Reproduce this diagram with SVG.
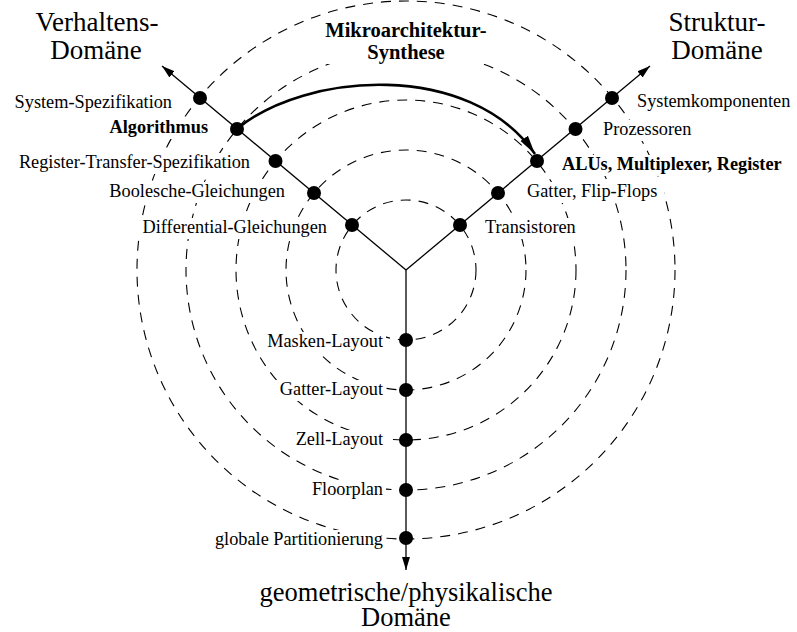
<svg xmlns="http://www.w3.org/2000/svg" width="797" height="632" viewBox="0 0 797 632">
  <style>
    .ring { fill: none; stroke: #000; stroke-width: 1.1; stroke-dasharray: 10 8; }
    .axis { fill: none; stroke: #000; stroke-width: 1.3; }
    .synth { fill: none; stroke: #000; stroke-width: 2.6; }
    .dot { fill: #000; }
    .bg { fill: #fff; }
    .lbl { font-family: "Liberation Serif", "Times New Roman", serif; font-size: 18.3px; fill: #000; }
    .bold { font-weight: bold; }
    .dom { font-family: "Liberation Serif", "Times New Roman", serif; font-size: 27px; fill: #000; }
    .end { text-anchor: end; }
    .mid { text-anchor: middle; }
  </style>
  <defs>
    <marker id="axisHead" markerUnits="userSpaceOnUse" markerWidth="14" markerHeight="10" refX="13" refY="5" orient="auto">
      <path d="M0,1 L13,5 L0,9 Z" fill="#000"/>
    </marker>
    <marker id="synthHead" markerUnits="userSpaceOnUse" markerWidth="20" markerHeight="12" refX="19" refY="6" orient="auto">
      <path d="M0,1.5 L19,6 L0,10.5 Z" fill="#000"/>
    </marker>
  </defs>

  <rect width="797" height="632" fill="#fff"/>

  <!-- abstraction levels: concentric dashed rings around the centre (406,270) -->
  <g id="rings">
    <circle class="ring" cx="406" cy="270" r="70"/>
    <circle class="ring" cx="406" cy="270" r="120"/>
    <circle class="ring" cx="406" cy="270" r="170"/>
    <circle class="ring" cx="406" cy="270" r="220"/>
    <circle class="ring" cx="406" cy="270" r="269"/>
  </g>

  <!-- domain titles -->
  <g id="domain-behaviour">
    <text class="dom mid" x="97" y="31">Verhaltens-</text>
    <text class="dom mid" x="96" y="59">Domäne</text>
  </g>
  <g id="domain-structure">
    <text class="dom mid" x="717" y="31">Struktur-</text>
    <text class="dom mid" x="717" y="59">Domäne</text>
  </g>
  <g id="domain-geometry">
    <text class="dom mid" style="font-size:26.5px"><tspan x="406" y="601">geometrische/physikalische</tspan><tspan x="406" y="626">Domäne</tspan></text>
  </g>

  <g id="synthesis-label">
    <rect class="bg" x="318" y="18" width="176" height="46"/>
    <text class="lbl bold mid" x="406" y="37" style="font-size:20.5px">Mikroarchitektur-</text>
    <text class="lbl bold mid" x="406" y="59" style="font-size:20.5px">Synthese</text>
  </g>

  <!-- connectors: the three domain axes and the synthesis step -->
  <g id="connectors">
    <line class="axis" x1="406" y1="270" x2="162" y2="66" marker-end="url(#axisHead)"/>
    <line class="axis" x1="406" y1="270" x2="650" y2="66" marker-end="url(#axisHead)"/>
    <line class="axis" x1="406" y1="270" x2="406" y2="570" marker-end="url(#axisHead)"/>
    <path class="synth" d="M237,129 C305,72 470,60 535,154" marker-end="url(#synthHead)"/>
  </g>

  <!-- behavioural domain -->
  <g id="system-spezifikation">
    <rect class="bg" x="10" y="93" width="165" height="21"/>
    <text class="lbl end" x="172" y="108">System-Spezifikation</text>
    <circle class="dot" cx="200" cy="98" r="7"/>
  </g>
  <g id="algorithmus">
    <rect class="bg" x="105" y="118" width="106" height="21"/>
    <text class="lbl bold end" x="208" y="133">Algorithmus</text>
    <circle class="dot" cx="237" cy="129" r="7"/>
  </g>
  <g id="register-transfer-spezifikation">
    <rect class="bg" x="10" y="153" width="243" height="21"/>
    <text class="lbl end" x="250" y="168">Register-Transfer-Spezifikation</text>
    <circle class="dot" cx="275.5" cy="161" r="7"/>
  </g>
  <g id="boolesche-gleichungen">
    <rect class="bg" x="102" y="182" width="186" height="21"/>
    <text class="lbl end" x="285" y="197">Boolesche-Gleichungen</text>
    <circle class="dot" cx="314" cy="193" r="7"/>
  </g>
  <g id="differential-gleichungen">
    <rect class="bg" x="135" y="218" width="195" height="21"/>
    <text class="lbl end" x="327" y="233">Differential-Gleichungen</text>
    <circle class="dot" cx="352" cy="225" r="7"/>
  </g>

  <!-- structural domain -->
  <g id="systemkomponenten">
    <rect class="bg" x="634" y="92" width="163" height="21"/>
    <text class="lbl" x="637" y="107">Systemkomponenten</text>
    <circle class="dot" cx="612" cy="98" r="7"/>
  </g>
  <g id="prozessoren">
    <rect class="bg" x="600" y="120" width="98" height="21"/>
    <text class="lbl" x="603" y="135">Prozessoren</text>
    <circle class="dot" cx="575.5" cy="129" r="7"/>
  </g>
  <g id="alus-multiplexer-register">
    <rect class="bg" x="559" y="155" width="235" height="21"/>
    <text class="lbl bold" x="562" y="170">ALUs, Multiplexer, Register</text>
    <circle class="dot" cx="537" cy="161" r="7"/>
  </g>
  <g id="gatter-flip-flops">
    <rect class="bg" x="524" y="182" width="140" height="21"/>
    <text class="lbl" x="527" y="197">Gatter, Flip-Flops</text>
    <circle class="dot" cx="498" cy="193" r="7"/>
  </g>
  <g id="transistoren">
    <rect class="bg" x="482" y="218" width="96" height="21"/>
    <text class="lbl" x="485" y="233">Transistoren</text>
    <circle class="dot" cx="460" cy="225" r="7"/>
  </g>

  <!-- geometric / physical domain -->
  <g id="masken-layout">
    <rect class="bg" x="258" y="332" width="128" height="21"/>
    <text class="lbl end" x="383" y="347">Masken-Layout</text>
    <circle class="dot" cx="406" cy="340" r="7"/>
  </g>
  <g id="gatter-layout">
    <rect class="bg" x="274" y="380" width="112" height="21"/>
    <text class="lbl end" x="383" y="395">Gatter-Layout</text>
    <circle class="dot" cx="406" cy="390" r="7"/>
  </g>
  <g id="zell-layout">
    <rect class="bg" x="292" y="430" width="94" height="21"/>
    <text class="lbl end" x="383" y="445">Zell-Layout</text>
    <circle class="dot" cx="406" cy="440" r="7"/>
  </g>
  <g id="floorplan">
    <rect class="bg" x="308" y="480" width="78" height="21"/>
    <text class="lbl end" x="383" y="495">Floorplan</text>
    <circle class="dot" cx="406" cy="490" r="7"/>
  </g>
  <g id="globale-partitionierung">
    <rect class="bg" x="208" y="530" width="178" height="21"/>
    <text class="lbl end" x="383" y="545">globale Partitionierung</text>
    <circle class="dot" cx="406" cy="538" r="7"/>
  </g>
</svg>
